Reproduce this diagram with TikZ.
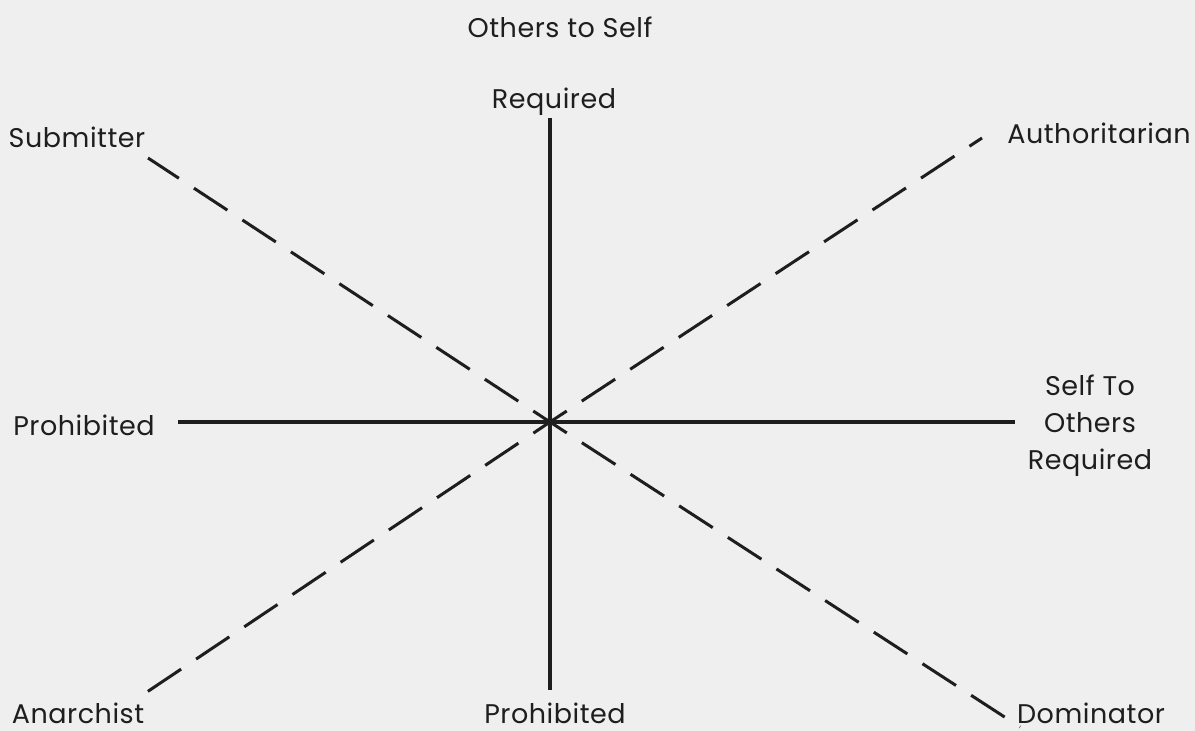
\documentclass[tikz,border=0pt]{standalone}
\usepackage{fontspec}
\setmainfont[LetterSpace=2]{Poppins}
\definecolor{ink}{HTML}{1E1E1E}
\definecolor{paper}{HTML}{EFEFEF}
\begin{document}
\begin{tikzpicture}[x=1pt,y=-1pt,
  lbl/.style={inner sep=0pt, font=\fontsize{27}{37}\selectfont, text=ink},
  axisline/.style={draw=ink, line width=4pt},
  diagline/.style={draw=ink, line width=3pt, dash pattern=on 40pt off 18pt, dash phase=20pt}]
\fill[paper] (0,0) rectangle (1195,731);
\useasboundingbox (0,0) rectangle (1195,731);
% coordinates
\coordinate (c) at (550,422);
\coordinate (vt) at (550,118);
\coordinate (vb) at (550,690);
\coordinate (hl) at (178,422);
\coordinate (hr) at (1015,422);
\coordinate (sub) at (148,158);
\coordinate (aut) at (982,138);
\coordinate (ana) at (138,698);
\coordinate (dom) at (1020,727);
% axes
\draw[axisline] (vt) -- (vb);
\draw[axisline, line width=4.5pt] (hl) -- (hr);
% diagonals
\draw[diagline] (c) -- (sub);
\draw[diagline] (c) -- (aut);
\draw[diagline] (c) -- (ana);
\draw[diagline] (c) -- (dom);
% labels
\node[lbl, anchor=base] (ots) at (560,37) {Others to Self};
\node[lbl, anchor=base] (req) at (554,108) {Required};
\node[lbl, anchor=base] (subm) at (77,147) {Submitter};
\node[lbl, anchor=base] (auth) at (1099,143) {Authoritarian};
\node[lbl, anchor=base] (prohl) at (84,435) {Prohibited};
\node[lbl, align=center] (sto) at (1090,426) {Self To\\Others\\Required};
\node[lbl, anchor=base] (anar) at (78,723) {Anarchist};
\node[lbl, anchor=base] (prohb) at (555,723) {Prohibited};
\node[lbl, anchor=base] (domi) at (1091,723) {Dominator};
\end{tikzpicture}
\end{document}
